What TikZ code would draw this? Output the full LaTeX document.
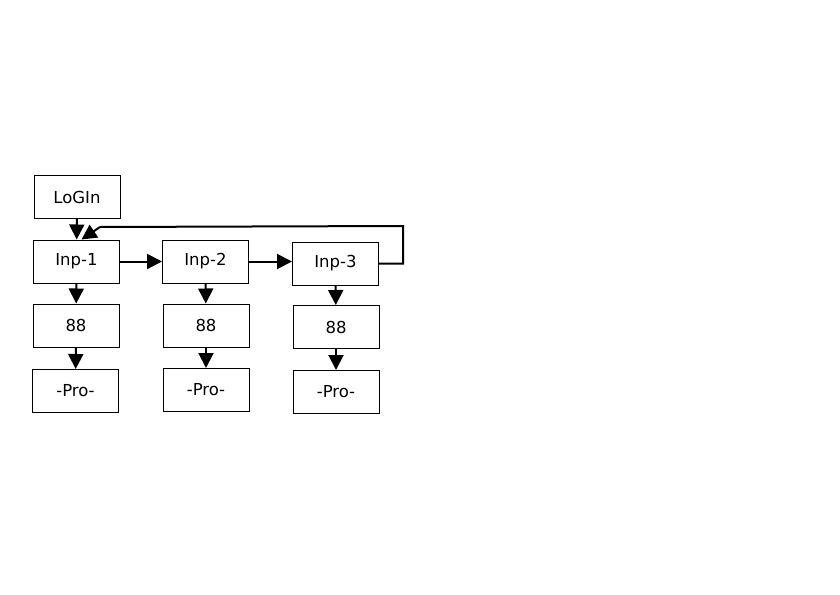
\documentclass[tikz,border=0pt]{standalone}
\usepackage{fontspec}
\setmainfont{DejaVu Sans}
\usetikzlibrary{arrows.meta,positioning,calc}
\tikzset{
  >={Triangle[length=15pt,width=15pt]},
  % boxes
  blk/.style={draw=black,line width=1pt,fill=white,inner sep=0pt,
              minimum width=86pt,minimum height=43pt,
              font=\fontsize{16.5}{19}\selectfont},
  % connectors
  arr/.style={->,draw=black,line width=2pt},
}
\begin{document}
\begin{tikzpicture}[x=1pt,y=-1pt]
  \useasboundingbox (0,0) rectangle (840,594);
  \node[blk] (login) at (77,197) {LoGIn};
  \node[blk] (inp1) at (76.5,261.5) {Inp-1};
  \node[blk] (inp2) at (205.5,261.5) {Inp-2};
  \node[blk] (inp3) at (335.5,263.5) {Inp-3};
  \node[blk] (dsp1) at (76,325.5) {88};
  \node[blk] (dsp2) at (206,325.5) {88};
  \node[blk] (dsp3) at (336,327) {88};
  \node[blk] (pro1) at (75.5,391) {-Pro-};
  \node[blk] (pro2) at (206,390) {-Pro-};
  \node[blk] (pro3) at (336,392) {-Pro-};
  \coordinate (loopR) at (403,226);
  \coordinate (loopL) at (100,227);
  \draw[arr] (login) -- (inp1);
  \draw[arr] (inp1) -- (inp2.west |- inp1.east);
  \draw[arr] (inp2) -- (inp3.west |- inp2.east);
  \draw[line width=2pt] (inp3.east) -| (loopR) -- (loopL);
  \draw[arr] (loopL) -- ([xshift=5pt]inp1.north);
  \foreach \i in {1,2,3}{
    \draw[arr] (inp\i) -- (dsp\i);
    \draw[arr] (dsp\i) -- (pro\i);
  }
\end{tikzpicture}
\end{document}
